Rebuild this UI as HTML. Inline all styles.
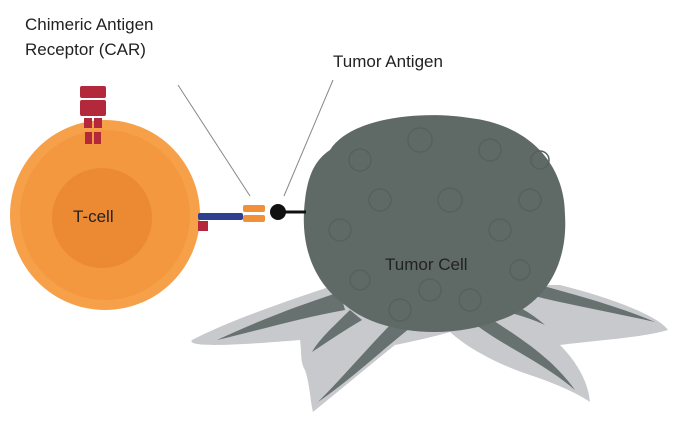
<!DOCTYPE html>
<html><head><style>body{margin:0;background:#fff}svg{display:block}text{font-family:"Liberation Sans",sans-serif;fill:#222}</style></head>
<body>
<svg width="675" height="433" viewBox="0 0 675 433">
<path d="M335 285 C290 300 230 320 192 340 C185 348 240 345 300 340 C302 355 300 362 305 370 C310 385 310 400 313 412 C340 390 370 365 395 345 C420 340 440 335 450 332 C470 350 500 365 530 375 C560 385 580 395 590 402 C588 380 575 360 560 345 C600 340 640 338 668 330 C660 318 620 300 560 285 Z" fill="#c8c9cc"/>
<g fill="#67716f">
<path d="M340 292 C300 305 260 320 217 340 C260 330 300 318 345 310 Z"/>
<path d="M350 310 C335 325 320 338 312 352 C330 340 345 330 362 320 Z"/>
<path d="M395 320 C370 345 345 375 318 402 C350 380 380 352 410 328 Z"/>
<path d="M470 320 C500 345 540 360 575 390 C550 355 515 335 485 315 Z"/>
<path d="M530 295 C570 305 610 312 655 322 C615 305 575 295 540 285 Z"/>
<path d="M500 310 C520 315 535 320 545 325 C530 312 520 308 510 302 Z"/>
</g>
<path d="M330 150 C350 118 420 110 470 118 C530 125 565 165 565 215 C568 265 545 305 500 320 C450 340 380 335 345 305 C310 280 300 240 305 200 C308 175 315 160 330 150 Z" fill="#5f6a67"/>
<g fill="none" stroke="#56615e" stroke-width="1.5">
<circle cx="360" cy="160" r="11"/><circle cx="420" cy="140" r="12"/><circle cx="490" cy="150" r="11"/><circle cx="530" cy="200" r="11"/><circle cx="340" cy="230" r="11"/><circle cx="470" cy="300" r="11"/><circle cx="520" cy="270" r="10"/><circle cx="400" cy="310" r="11"/><circle cx="450" cy="200" r="12"/><circle cx="380" cy="200" r="11"/><circle cx="500" cy="230" r="11"/><circle cx="430" cy="290" r="11"/><circle cx="360" cy="280" r="10"/><circle cx="540" cy="160" r="9"/>
</g>
<circle cx="105" cy="215" r="95" fill="#f6a04a"/>
<circle cx="105" cy="215" r="85" fill="#f3983e"/>
<circle cx="102" cy="218" r="50" fill="#ec8a33"/>
<g fill="#b3283a"><rect x="80" y="86" width="26" height="12" rx="2"/><rect x="80" y="100" width="26" height="16" rx="2"/><rect x="84" y="118" width="8" height="10"/><rect x="94" y="118" width="8" height="10"/><rect x="85" y="132" width="7" height="12"/><rect x="94" y="132" width="7" height="12"/></g>
<rect x="198" y="213" width="45" height="7" fill="#2e3f8f" rx="2"/>
<rect x="198" y="221" width="10" height="10" fill="#b3283a"/>
<rect x="243" y="205" width="22" height="7" fill="#f0913a" rx="2"/>
<rect x="243" y="215" width="22" height="7" fill="#f0913a" rx="2"/>
<line x1="280" y1="212" x2="306" y2="212" stroke="#111" stroke-width="3"/>
<circle cx="278" cy="212" r="8" fill="#111"/>
<line x1="178" y1="85" x2="250" y2="196" stroke="#888" stroke-width="1"/>
<line x1="333" y1="80" x2="284" y2="196" stroke="#888" stroke-width="1"/>
<text x="25" y="30" font-size="17">Chimeric Antigen</text>
<text x="25" y="55" font-size="17">Receptor (CAR)</text>
<text x="333" y="67" font-size="17">Tumor Antigen</text>
<text x="73" y="222" font-size="17">T-cell</text>
<text x="385" y="270" font-size="17">Tumor Cell</text>
</svg>
</body></html>
